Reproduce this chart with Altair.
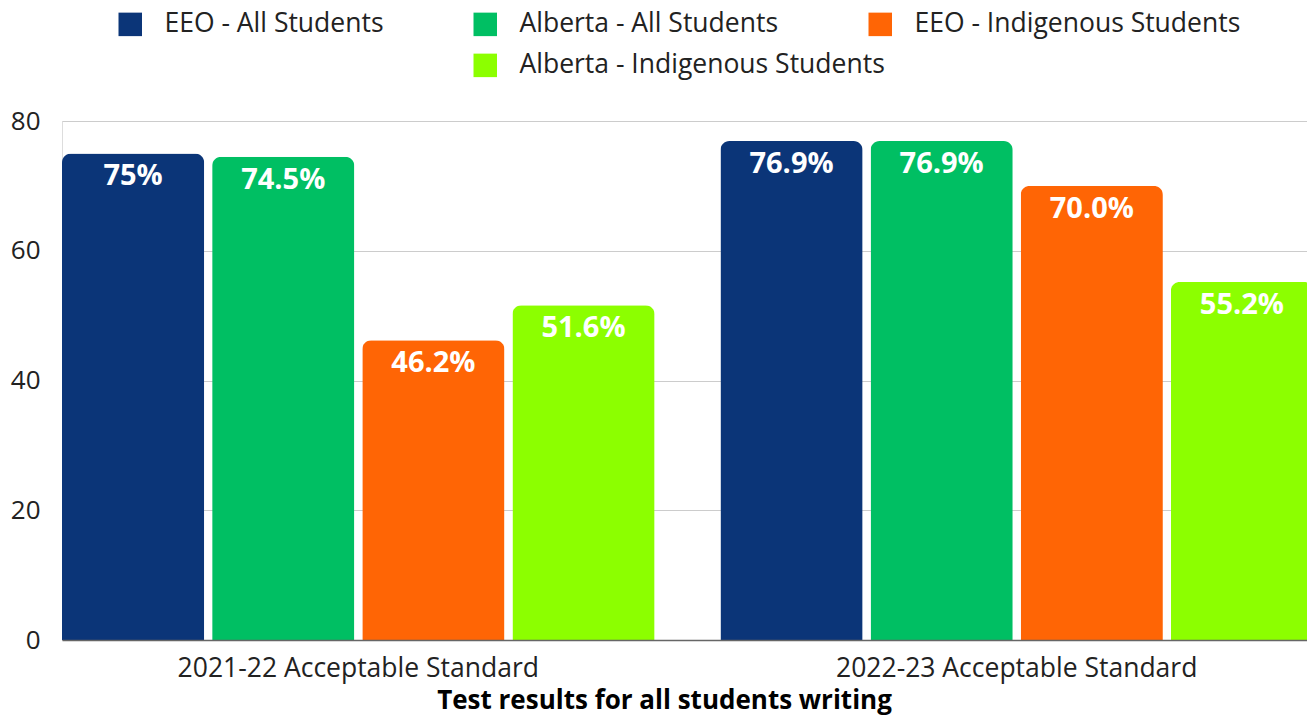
import altair as alt
import pandas as pd

categories = ["2021-22 Acceptable Standard", "2022-23 Acceptable Standard"]
series = ["EEO - All Students", "Alberta - All Students",
          "EEO - Indigenous Students", "Alberta - Indigenous Students"]
colors = ["#0b3578", "#00bf63", "#ff6505", "#8cff00"]
eeo_all = [75, 76.9]
alberta_all = [74.5, 76.9]
eeo_ind = [46.2, 70.0]
alberta_ind = [51.6, 55.2]
label_text = [["75%", "76.9%"], ["74.5%", "76.9%"], ["46.2%", "70.0%"], ["51.6%", "55.2%"]]
y_ticks = [0, 20, 40, 60, 80]
x_title = "Test results for all students writing"

rows = []
for s, vals, labs in zip(series, [eeo_all, alberta_all, eeo_ind, alberta_ind], label_text):
    for c, v, l in zip(categories, vals, labs):
        rows.append({"category": c, "series": s, "value": v, "label": l})
df = pd.DataFrame(rows)

FONT = "Open Sans"

x_enc = alt.X(
    "category:N", sort=categories,
    scale=alt.Scale(domain=categories, paddingInner=0.1, paddingOuter=0),
    axis=alt.Axis(title=x_title, labelFont=FONT, labelFontSize=26.5, labelColor="#222",
                  labelPadding=15, labelAngle=0, labelLimit=0, ticks=False,
                  domainColor="#666", domainWidth=1.5, grid=False,
                  titleFont=FONT, titleFontSize=26, titleFontWeight="bold",
                  titleColor="#000", titlePadding=6, titleX=602, zindex=1),
)
xoff_enc = alt.XOffset("series:N", sort=series,
                       scale=alt.Scale(domain=series, paddingInner=0.053, paddingOuter=0))
y_enc = alt.Y(
    "value:Q",
    scale=alt.Scale(domain=[0, 80], nice=False),
    axis=alt.Axis(values=y_ticks, title=None, grid=True, gridColor="#cccccc",
                  domain=False, ticks=False, labelFont=FONT, labelFontSize=26,
                  labelColor="#222", labelPadding=22),
)


def legend(x, y):
    return alt.Legend(orient="none", legendX=x, legendY=y, direction="horizontal",
                      columns=3, columnPadding=88, title=None, symbolType="square",
                      symbolSize=552, symbolStrokeWidth=0, symbolOpacity=1,
                      labelFont=FONT, labelFontSize=26.5, labelColor="#222",
                      labelOffset=21, labelLimit=0, padding=0)


base = alt.Chart(df)

bars_main = base.transform_filter(
    alt.FieldOneOfPredicate(field="series", oneOf=series[:3])
).mark_bar(cornerRadiusTopLeft=9, cornerRadiusTopRight=9).encode(
    x=x_enc, xOffset=xoff_enc, y=y_enc,
    color=alt.Color("series:N", sort=series[:3],
                    scale=alt.Scale(domain=series[:3], range=colors[:3]),
                    legend=legend(55, -110)),
)

bars_last = base.transform_filter(
    alt.FieldEqualPredicate(field="series", equal=series[3])
).mark_bar(cornerRadiusTopLeft=9, cornerRadiusTopRight=9).encode(
    x=x_enc, xOffset=xoff_enc, y=y_enc,
    color=alt.Color("series:N",
                    scale=alt.Scale(domain=series[3:], range=colors[3:]),
                    legend=legend(410, -69)),
)

labels = base.mark_text(font=FONT, fontSize=29, fontWeight="bold", color="white",
                        baseline="middle", align="center", dy=23).encode(
    x=x_enc, xOffset=xoff_enc, y=y_enc, text="label:N",
)

chart = alt.layer(bars_main, bars_last, labels).resolve_scale(
    color="independent"
).resolve_legend(color="independent").properties(
    width=1251, height=519,
    padding={"left": 54, "top": 113, "right": -6, "bottom": 76},
    autosize=alt.AutoSizeParams(type="none"),
).configure_view(stroke=None).configure(font=FONT)

chart.save("out.html", embed_options={"renderer": "svg", "actions": False})
